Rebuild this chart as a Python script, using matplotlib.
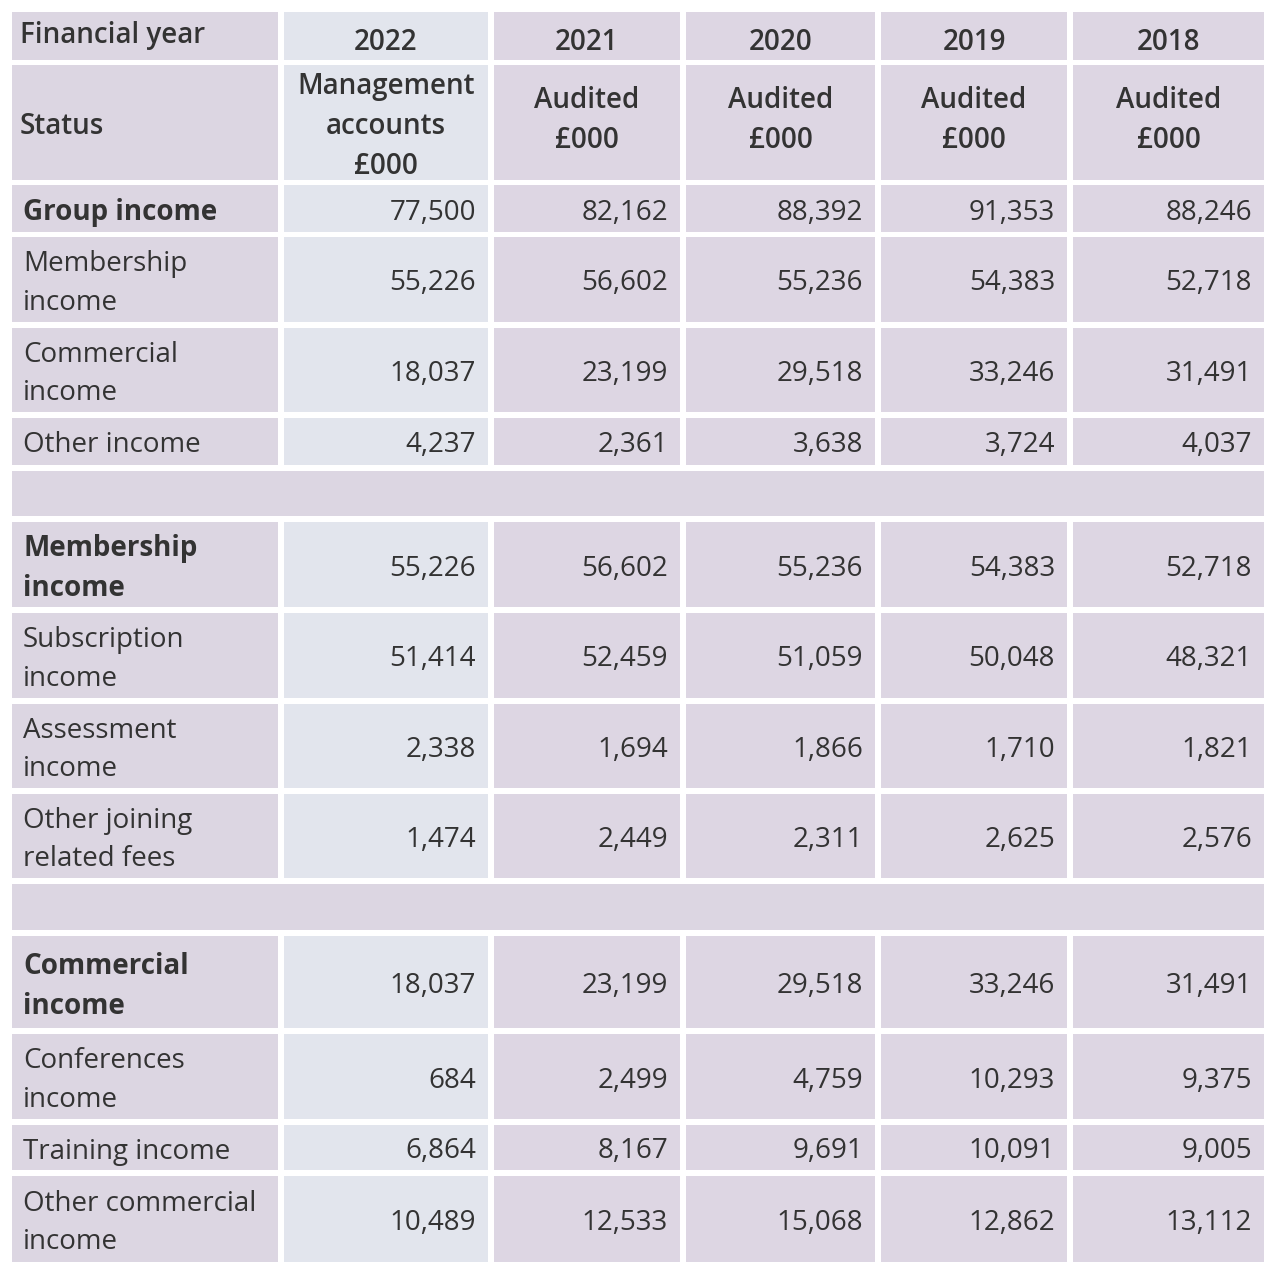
import matplotlib.pyplot as plt

plt.rcParams['font.family'] = ['Open Sans', 'DejaVu Sans']

years = ["2022", "2021", "2020", "2019", "2018"]
status = ["Management\naccounts\n£000", "Audited\n£000", "Audited\n£000", "Audited\n£000", "Audited\n£000"]

labels = ["Group income", "Membership\nincome", "Commercial\nincome", "Other income", None,
          "Membership\nincome", "Subscription\nincome", "Assessment\nincome", "Other joining\nrelated fees", None,
          "Commercial\nincome", "Conferences\nincome", "Training income", "Other commercial\nincome"]
bold_rows = [0, 5, 10]
values = [
    ["77,500", "82,162", "88,392", "91,353", "88,246"],
    ["55,226", "56,602", "55,236", "54,383", "52,718"],
    ["18,037", "23,199", "29,518", "33,246", "31,491"],
    ["4,237", "2,361", "3,638", "3,724", "4,037"],
    None,
    ["55,226", "56,602", "55,236", "54,383", "52,718"],
    ["51,414", "52,459", "51,059", "50,048", "48,321"],
    ["2,338", "1,694", "1,866", "1,710", "1,821"],
    ["1,474", "2,449", "2,311", "2,625", "2,576"],
    None,
    ["18,037", "23,199", "29,518", "33,246", "31,491"],
    ["684", "2,499", "4,759", "10,293", "9,375"],
    ["6,864", "8,167", "9,691", "10,091", "9,005"],
    ["10,489", "12,533", "15,068", "12,862", "13,112"],
]

# layout (pixels)
col_x = [(12, 278), (284, 488), (494, 680), (686, 875), (881, 1067), (1073, 1264)]
row_y = [(12, 60), (65, 180), (185, 232), (237, 322), (328, 412), (418, 465), (471, 516),
         (522, 607), (613, 698), (704, 788), (794, 878), (884, 930), (936, 1028),
         (1034, 1119), (1125, 1170), (1176, 1262)]
c_label = "#dcd6e2"
c_2022 = "#e2e5ed"
c_other = "#ddd6e3"
fs = 20
tc = "#333333"
dy = 4

fig = plt.figure(figsize=(12.8, 12.77), dpi=100)
ax = fig.add_axes([0, 0, 1, 1])
ax.set_xlim(0, 1280)
ax.set_ylim(1277, 0)
ax.axis('off')

def cell(ci, ri, color):
    x0, x1 = col_x[ci]
    y0, y1 = row_y[ri]
    ax.add_patch(plt.Rectangle((x0, y0), x1 - x0, y1 - y0, color=color, lw=0))

def col_color(ci):
    return c_label if ci == 0 else (c_2022 if ci == 1 else c_other)

# header rows
for ri in range(2):
    for ci in range(6):
        cell(ci, ri, col_color(ci))
ym0 = sum(row_y[0]) / 2
ym1 = sum(row_y[1]) / 2
hw = 'semibold'
ax.text(20, ym0, "Financial year", fontsize=fs, color=tc, va='center', ha='left', fontweight=hw)
ax.text(20, ym1 + dy, "Status", fontsize=fs, color=tc, va='center', ha='left', fontweight=hw)
for ci in range(5):
    xm = sum(col_x[ci + 1]) / 2
    ax.text(xm, ym0 + 6, years[ci], fontsize=fs, color=tc, va='center', ha='center', fontweight=hw)
    ax.text(xm, ym1 + dy - (6 if ci > 0 else 0), status[ci], fontsize=fs, color=tc,
            va='center', ha='center', linespacing=1.5, fontweight=hw)

for i, lab in enumerate(labels):
    ri = i + 2
    ym = sum(row_y[ri]) / 2 + dy
    if lab is None:
        x0 = col_x[0][0]; x1 = col_x[-1][1]
        y0, y1 = row_y[ri]
        ax.add_patch(plt.Rectangle((x0, y0), x1 - x0, y1 - y0, color=c_label, lw=0))
        continue
    for ci in range(6):
        cell(ci, ri, col_color(ci))
    ax.text(23, ym, lab, fontsize=fs, color=tc, va='center', ha='left', linespacing=1.5,
            fontweight='bold' if i in bold_rows else 'normal')
    for ci in range(5):
        ax.text(col_x[ci + 1][1] - 12, ym, values[i][ci], fontsize=fs, color=tc,
                va='center', ha='right')

fig.savefig("out.png", dpi=100, facecolor='white')
